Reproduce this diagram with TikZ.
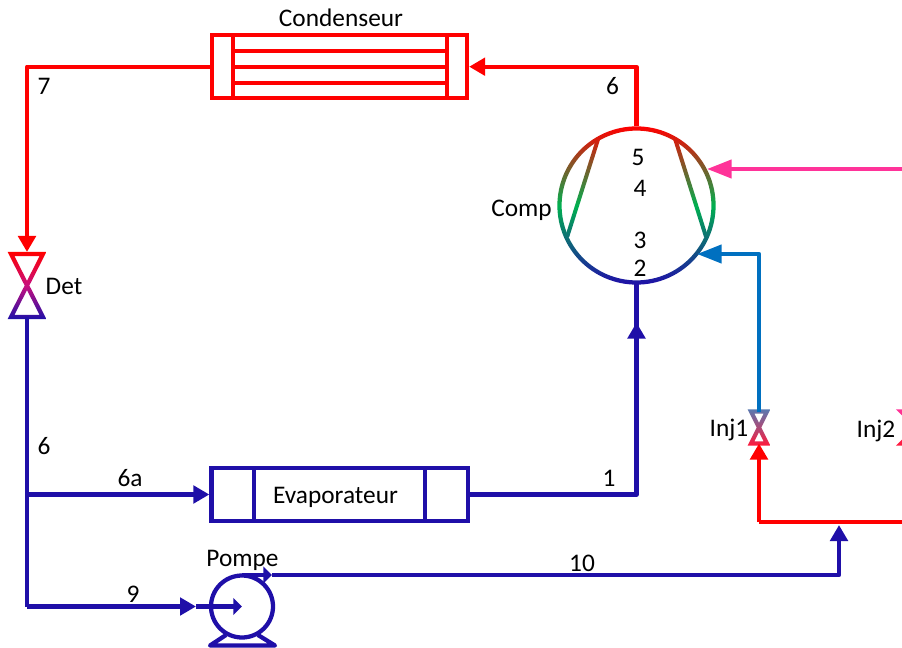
\documentclass[tikz,border=0pt]{standalone}
\usepackage{fontspec}
\setmainfont{Carlito}
\usetikzlibrary{arrows.meta,calc}
\definecolor{cred}{HTML}{FF0000}
\definecolor{cblue}{HTML}{1F0FA8}
\definecolor{cgreen}{HTML}{00B050}
\definecolor{cinj}{HTML}{0070C0}
\definecolor{cpink}{HTML}{FF3399}
\definecolor{cslate}{HTML}{5A78B0}
\definecolor{cvred}{HTML}{FF1A3C}
\definecolor{cmag}{HTML}{C8107E}
\pgfdeclareverticalshading{compshade}{100bp}{color(0bp)=(cblue); color(25bp)=(cblue); color(50bp)=(cgreen); color(75bp)=(cred); color(100bp)=(cred)}
\pgfdeclareverticalshading{detshade}{100bp}{color(0bp)=(cblue); color(25bp)=(cblue); color(50bp)=(cmag); color(75bp)=(cred); color(100bp)=(cred)}
\tikzset{
  x=0.75pt,y=-0.75pt,
  pipe/.style={line width=3.2pt,line join=round},
  tip/.style={-{Triangle[length=12pt,width=13pt]}},
  longtip/.style={-{Triangle[length=18.5pt,width=13.5pt]}},
  shorttip/.style={-{Triangle[length=6.5pt,width=12.5pt]}},
  hx/.style={draw,line width=3.2pt,rectangle,outer sep=1.6pt,inner sep=0pt},
  lbl/.style={font=\fontsize{19}{21}\selectfont,text=black,inner sep=0pt},
  valvebox/.style={rectangle,inner sep=0pt,outer sep=0pt},
}
% \valve{name}{cx}{cy}{w}{h}{shading options}
\newcommand{\valve}[6]{%
  \pgfmathsetmacro{\vt}{4.2}%
  \pgfmathsetmacro{\vs}{(\vt/2)*sqrt(1+(#4/#5)*(#4/#5))}%
  \pgfmathsetmacro{\vH}{#5+\vt/2}%
  \pgfmathsetmacro{\vX}{\vs+\vH*#4/#5}%
  \pgfmathsetmacro{\vin}{#5-\vt/2}%
  \pgfmathsetmacro{\vx}{\vin*#4/#5-\vs}%
  \pgfmathsetmacro{\vd}{\vs*#5/#4}%
  \node[valvebox,minimum width={2*#4*0.75pt},minimum height={2*#5*0.75pt}] (#1) at (#2,#3) {};
  \begin{scope}[shift={(#2,#3)}]
    \begin{scope}[even odd rule]
      \clip (-\vX,-\vH) -- (\vX,-\vH) -- (\vs,0) -- (\vX,\vH) -- (-\vX,\vH) -- (-\vs,0) -- cycle
            (-\vx,-\vin) -- (\vx,-\vin) -- (0,-\vd) -- cycle
            (-\vx,\vin) -- (\vx,\vin) -- (0,\vd) -- cycle;
      \shade[#6] (-\vX,-\vH) rectangle (\vX,\vH);
    \end{scope}
  \end{scope}}
\begin{document}
\begin{tikzpicture}
\useasboundingbox (0,0) rectangle (902,648);
\begin{scope}
\clip (0,0) rectangle (902,648);

% named free points
\coordinate (TL) at (27,66.7);
\coordinate (detin) at (27,252);
\coordinate (BL) at (27,606.5);
\coordinate (evapbr) at (27,494.5);
\coordinate (pumpin) at (196,606.5);
\coordinate (compin) at (636.5,322.5);
\coordinate (compbase) at (636.5,345);
\coordinate (pinkend) at (902,169);
\coordinate (pinktip) at (707,169);
\coordinate (bluetip) at (697,254);
\coordinate (redR) at (902,522);
\coordinate (redC) at (759,522);
\coordinate (redtee) at (839,525);
\coordinate (pumpc) at (242,606.5);
\coordinate (pumpout) at (272,575);
\coordinate (pumpt) at (242,575);
\coordinate (pumpb1) at (210,645.5);
\coordinate (pumpb2) at (275,645.5);
\coordinate (pumpl1) at (226,635);
\coordinate (pumpl2) at (258,635);

% condenser
\node[hx,draw=cred,minimum width=191.25pt,minimum height=47.25pt] (cond) at (339.5,66.7) {};
\foreach \xx in {232.7,446.7} \draw[pipe,cred] (\xx,35) -- (\xx,98);
\foreach \yy in {50.7,66.7,82.7} \draw[pipe,cred] (232.7,\yy) -- (446.7,\yy);

% evaporator
\node[hx,draw=cblue,minimum width=192.4pt,minimum height=39.75pt] (evap) at (339.75,494.5) {};
\foreach \xx in {254,425} \draw[pipe,cblue] (\xx,468) -- (\xx,521);

% compressor
\node[circle,minimum size=115.5pt,inner sep=0pt,outer sep=1.5pt] (comp) at (636.5,205.5) {};
\begin{scope}
  \begin{scope}[even odd rule]
    \clip (636.5,205.5) circle[radius=59.35pt] (636.5,205.5) circle[radius=56.15pt];
    \shade[shading=compshade] (550,126.5) rectangle (725,284.5);
  \end{scope}
  \begin{scope}
    \clip (596,139) -- (600.2,139) -- (569.2,237) -- (565,237) -- cycle;
    \shade[shading=compshade] (550,126.5) rectangle (725,284.5);
  \end{scope}
  \begin{scope}
    \clip (673,139) -- (677.2,139) -- (708.2,237) -- (704,237) -- cycle;
    \shade[shading=compshade] (550,126.5) rectangle (725,284.5);
  \end{scope}
\end{scope}

% valves
\valve{det}{27}{285.5}{16}{31.5}{shading=detshade}
\valve{injone}{759}{427.5}{8}{16}{top color=cslate,bottom color=cvred}
\valve{injtwo}{917}{427.5}{16}{16}{top color=cpink,bottom color=cvred}

% pump
\node[circle,draw=cblue,line width=3.2pt,minimum size=46.5pt,inner sep=0pt,outer sep=1.6pt] (pump) at (pumpc) {};
\draw[pipe,cblue] (pumpl1) -- (pumpb1) -- (pumpb2) -- (pumpl2);

% connectors
\draw[pipe,cred,tip] (cond.west) -- (TL) -- (detin);
\draw[pipe,cred,tip] (comp.north) |- (cond.east);
\draw[pipe,cblue] (det.south) -- (BL);
\draw[pipe,cblue,tip] (BL) -- (pumpin);
\draw[pipe,cblue,shorttip] (pumpin) -- (pumpc);
\draw[pipe,cblue,tip] (evapbr) -- (evap.west);
\draw[pipe,cblue] (evap.east) -| (comp.south);
\draw[pipe,cblue,tip] (compbase) -- (compin);
\draw[pipe,cpink,longtip] (pinkend) -- (pinktip);
\draw[pipe,cinj,longtip] (injone.north) |- (bluetip);
\draw[pipe,cred] (redR) -- (redC);
\draw[pipe,cred,tip] (redC) -- (injone.south);
\draw[pipe,cblue,shorttip] (pumpt) -- (pumpout);
\draw[pipe,cblue,tip] (pumpout) -| (redtee);

% labels
\node[lbl] (t1) at (341,18) {Condenseur};
\node[lbl] (t2) at (335.5,497) {Evaporateur};
\node[lbl] (t3) at (242.5,560) {Pompe};
\node[lbl] (t4) at (521.5,210) {Comp};
\node[lbl] (t5) at (64,286) {Det};
\node[lbl] (t6) at (729,430) {Inj1};
\node[lbl] (t7) at (876,431) {Inj2};
\node[lbl] (n1) at (638,157) {5};
\node[lbl] (n2) at (640,188) {4};
\node[lbl] (n3) at (640,240) {3};
\node[lbl] (n4) at (640,268) {2};
\node[lbl] (n5) at (612.5,86) {6};
\node[lbl] (n6) at (44,86) {7};
\node[lbl] (n7) at (44,446) {6};
\node[lbl] (n8) at (130,478) {6a};
\node[lbl] (n9) at (609,478) {1};
\node[lbl] (n10) at (133,594) {9};
\node[lbl] (n11) at (582,563.5) {10};
\end{scope}
\end{tikzpicture}
\end{document}
